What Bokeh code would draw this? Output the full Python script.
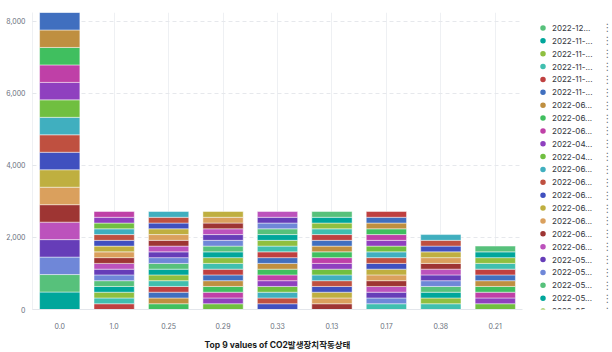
from bokeh.plotting import figure
from bokeh.models import ColumnDataSource, Range1d, FixedTicker, NumeralTickFormatter, FactorRange
from bokeh.layouts import row
from bokeh.embed import file_html
from bokeh.resources import INLINE
from bokeh.core.properties import value

# ---------------- data ----------------
categories = ["0.0", "1.0", "0.25", "0.29", "0.33", "0.13", "0.17", "0.38", "0.21"]

# legend entries (series 1..23, as displayed, truncated)
legend_labels = [
    "2022-12...", "2022-11-...", "2022-11-...", "2022-11-...", "2022-11-...", "2022-11-...",
    "2022-06...", "2022-06...", "2022-06...", "2022-04...", "2022-04...",
    "2022-06...", "2022-06...", "2022-06...", "2022-06...", "2022-06...", "2022-06...", "2022-06...",
    "2022-05...", "2022-05...", "2022-05...", "2022-05...", "2022-05...",
]

palette = [
    "#00a69b", "#57c17b", "#6f87d8", "#663db8", "#bc52bc", "#9e3533", "#daa05d",
    "#bfaf40", "#4050bf", "#bf5040", "#40afbf", "#70bf40", "#8f40bf", "#bf40a7",
    "#40bf5f", "#bf8f40", "#406fbf", "#bf4040", "#40bfaf", "#8fbf40",
]

# series (date) ids present in each bar
series_0_0 = [6, 7, 8, 9, 10, 11, 12, 13, 14, 15, 16, 17, 18, 19, 20, 21, 22]
series_1_0 = [9, 10, 11, 12, 13, 14, 15, 16, 17, 18, 19, 20, 21, 22, 23, 24, 25]
series_0_25 = [12, 13, 14, 15, 16, 17, 18, 19, 20, 21, 22, 23, 24, 25, 26, 27, 28]
series_0_29 = [15, 16, 17, 18, 19, 20, 21, 22, 23, 24, 25, 26, 27, 28, 29, 30, 31]
series_0_33 = [18, 19, 20, 21, 22, 23, 24, 25, 26, 27, 28, 29, 30, 31, 32, 33, 34]
series_0_13 = [21, 22, 23, 24, 25, 26, 27, 28, 29, 30, 31, 32, 33, 34, 35, 36, 37]
series_0_17 = [25, 26, 27, 28, 29, 30, 31, 32, 33, 34, 35, 36, 37, 38, 39, 40, 44]
series_0_38 = [32, 33, 34, 35, 36, 37, 38, 39, 40, 41, 42, 43, 44]
series_0_21 = [41, 42, 43, 44, 45, 46, 47, 48, 49, 50, 51]

# counts per series in each bar (same order as above)
values_0_0 = [485, 485, 485, 485, 485, 485, 485, 485, 485, 485, 485, 485, 485, 485, 485, 485, 485]
values_1_0 = [160, 160, 160, 160, 160, 160, 160, 160, 160, 160, 160, 160, 160, 160, 160, 160, 160]
values_0_25 = [160, 160, 160, 160, 160, 160, 160, 160, 160, 160, 160, 160, 160, 160, 160, 160, 160]
values_0_29 = [160, 160, 160, 160, 160, 160, 160, 160, 160, 160, 160, 160, 160, 160, 160, 160, 160]
values_0_33 = [160, 160, 160, 160, 160, 160, 160, 160, 160, 160, 160, 160, 160, 160, 160, 160, 160]
values_0_13 = [160, 160, 160, 160, 160, 160, 160, 160, 160, 160, 160, 160, 160, 160, 160, 160, 160]
values_0_17 = [160, 160, 160, 160, 160, 160, 160, 160, 160, 160, 160, 160, 160, 160, 160, 160, 160]
values_0_38 = [160, 160, 160, 160, 160, 160, 160, 160, 160, 160, 160, 160, 160]
values_0_21 = [160, 160, 160, 160, 160, 160, 160, 160, 160, 160, 160]

bar_series = [series_0_0, series_1_0, series_0_25, series_0_29, series_0_33,
              series_0_13, series_0_17, series_0_38, series_0_21]
bar_values = [values_0_0, values_1_0, values_0_25, values_0_29, values_0_33,
              values_0_13, values_0_17, values_0_38, values_0_21]

y_ticks = [0, 2000, 4000, 6000, 8000]
x_title = "Top 9 values of CO2발생장치작동상태"


def series_color(s):
    return palette[(22 - s) % len(palette)]


# ---------------- stacked segments ----------------
xs, bottoms, tops, colors = [], [], [], []
totals = []
for cat, ser, vals in zip(categories, bar_series, bar_values):
    base = 0
    for s, v in sorted(zip(ser, vals), key=lambda t: -t[0]):
        xs.append(cat)
        bottoms.append(base)
        tops.append(base + v)
        colors.append(series_color(s))
        base += v
    totals.append(base)

src = ColumnDataSource(dict(x=xs, bottom=bottoms, top=tops, color=colors))

FONT = "Inter"
TICK_COLOR = "#69707d"

p = figure(
    width=530, height=352, output_backend="svg", toolbar_location=None,
    x_range=FactorRange(*categories), y_range=Range1d(0, max(totals)),
    min_border_left=32, min_border_right=8, min_border_top=12, min_border_bottom=39,
    background_fill_color="white", border_fill_color="white",
)
p.outline_line_color = None

p.vbar(x="x", bottom="bottom", top="top", width=0.74, source=src,
       fill_color="color", line_color="white", line_alpha=0.45, line_width=1)

# y axis
p.yaxis.ticker = FixedTicker(ticks=y_ticks)
p.yaxis.formatter = NumeralTickFormatter(format="0,0")
p.yaxis.major_label_text_font = FONT
p.yaxis.major_label_text_font_size = "7px"
p.yaxis.major_label_text_color = TICK_COLOR
p.yaxis.major_label_standoff = 7
p.yaxis.major_tick_out = 0
p.yaxis.major_tick_in = 3
p.yaxis.major_tick_line_color = "#e3e6eb"
p.yaxis.minor_tick_line_color = None
p.yaxis.axis_line_color = "#eef0f3"

# x axis
p.xaxis.major_label_text_font = FONT
p.xaxis.major_label_text_font_size = "7px"
p.xaxis.major_label_text_color = TICK_COLOR
p.xaxis.major_label_standoff = 7
p.xaxis.major_tick_line_color = None
p.xaxis.axis_line_color = "#e3e6eb"
p.xaxis.axis_label = x_title
p.xaxis.axis_label_text_font = "Inter, Noto Sans CJK KR"
p.xaxis.axis_label_text_font_size = "8.5px"
p.xaxis.axis_label_text_font_style = "bold"
p.xaxis.axis_label_text_color = "#1a1c21"
p.xaxis.axis_label_standoff = 8

# grids
p.xgrid.grid_line_color = "#eef0f3"
p.xgrid.grid_line_width = 1
p.ygrid.grid_line_color = "#e6e8ec"
p.ygrid.grid_line_dash = "4 3"
p.ygrid.ticker = FixedTicker(ticks=y_ticks)

# ---------------- legend panel ----------------
LW = 82
lg = figure(
    width=LW, height=352, output_backend="svg", toolbar_location=None,
    x_range=Range1d(0, LW), y_range=Range1d(352, 0),
    min_border=0, min_border_left=0, min_border_right=0, min_border_top=0, min_border_bottom=0,
    background_fill_color="white", border_fill_color="white",
)
lg.axis.visible = False
lg.grid.visible = False
lg.outline_line_color = None

row_y = [18.3 + 15.25 * i for i in range(len(legend_labels))]
leg_src = ColumnDataSource(dict(
    y=row_y,
    dot_x=[12.5] * len(legend_labels),
    txt_x=[21.5] * len(legend_labels),
    menu_x=[77] * len(legend_labels),
    label=legend_labels,
    menu=["⋮"] * len(legend_labels),
    color=[series_color(i + 1) for i in range(len(legend_labels))],
))
lg.scatter(x="dot_x", y="y", size=5.5, fill_color="color", line_color=None, source=leg_src)
lg.text(x="txt_x", y="y", text="label", source=leg_src, text_font=value(FONT),
        text_font_size="8px", text_color="#343741", text_baseline="middle", text_align="left")
lg.text(x="menu_x", y="y", text="menu", source=leg_src, text_font=value("DejaVu Sans"),
        text_font_size="10px", text_color="#69707d", text_baseline="middle", text_align="center")

layout = row(p, lg)
open("out.html", "w").write(file_html(layout, INLINE))
